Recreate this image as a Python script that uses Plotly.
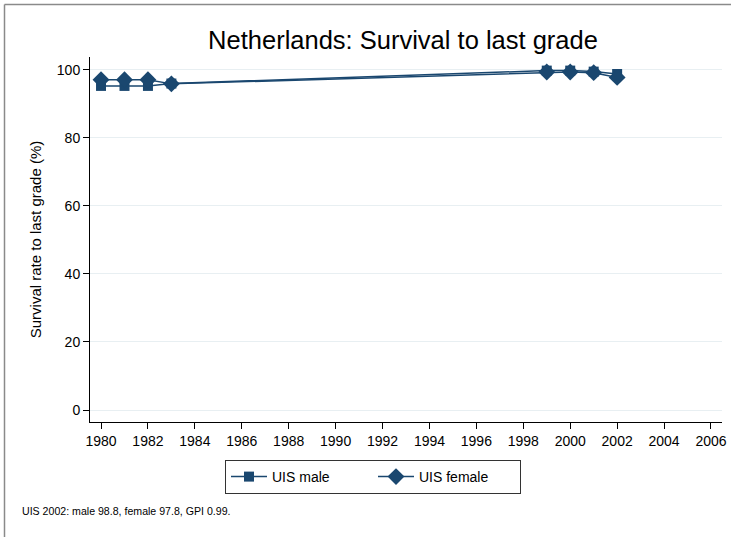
import plotly.graph_objects as go

years_male = [1980, 1981, 1982, 1983, 1999, 2000, 2001, 2002]
uis_male = [95.3, 95.3, 95.3, 96.0, 99.8, 99.8, 99.5, 98.8]
years_female = [1980, 1981, 1982, 1983, 1999, 2000, 2001, 2002]
uis_female = [97.1, 97.1, 97.1, 95.9, 99.4, 99.4, 99.2, 97.8]
x_ticks = list(range(1980, 2007, 2))
y_ticks = [0, 20, 40, 60, 80, 100]

NAVY = "#1a476f"
FONT = "Liberation Sans, Arial, sans-serif"

fig = go.Figure()
fig.add_trace(go.Scatter(x=years_male, y=uis_male, mode="lines+markers", name="UIS male",
                         line=dict(color=NAVY, width=1.5),
                         marker=dict(symbol="square", size=10, color=NAVY)))
fig.add_trace(go.Scatter(x=years_female, y=uis_female, mode="lines+markers", name="UIS female",
                         line=dict(color=NAVY, width=1.5),
                         marker=dict(symbol="diamond", size=13, color=NAVY)))

W, H = 731, 537
L, R, T, B = 90, 9, 57, 115
pw, ph = W - L - R, H - T - B

def px(x):
    return (x - L) / pw

def py(y):
    return (H - B - y) / ph

frame = dict(color="#8a8a8a", width=1.5)

fig.update_layout(
    width=W, height=H,
    margin=dict(l=L, r=R, t=T, b=B, autoexpand=False),
    paper_bgcolor="white", plot_bgcolor="white",
    font=dict(family=FONT, size=14, color="black"),
    title=dict(text="Netherlands: Survival to last grade", x=px(403), xref="paper", xanchor="center",
               y=1 - 40 / H, yref="container", yanchor="middle",
               font=dict(size=25.5, family=FONT)),
    showlegend=True,
    legend=dict(orientation="h", x=px(373), xanchor="center", y=py(460), yanchor="top",
                bordercolor="#333333", borderwidth=1, font=dict(size=14),
                itemwidth=36, entrywidth=96),
    xaxis=dict(range=[1979.53, 2006.47], tickvals=x_ticks, showgrid=False,
               showline=True, linecolor="black", linewidth=1,
               ticks="outside", ticklen=6, tickcolor="black", zeroline=False,
               tickfont=dict(size=14)),
    yaxis=dict(range=[-3.53, 103.8], tickvals=y_ticks, showgrid=True, gridcolor="#e8eff2",
               gridwidth=1, showline=True, linecolor="black", linewidth=1,
               ticks="outside", ticklen=6, tickcolor="black", zeroline=False,
               title=dict(text="Survival rate to last grade (%)", font=dict(size=15), standoff=11),
               tickfont=dict(size=14)),
    shapes=[
        dict(type="line", xref="paper", yref="paper",
             x0=px(4.5), x1=px(740), y0=py(4.5), y1=py(4.5), line=frame, layer="below"),
        dict(type="line", xref="paper", yref="paper",
             x0=px(4.5), x1=px(4.5), y0=py(4.5), y1=py(550), line=frame, layer="below"),
    ],
    annotations=[dict(text="UIS 2002: male 98.8, female 97.8, GPI 0.99.", xref="paper", yref="paper",
                      x=px(20), y=py(511), xanchor="left", yanchor="middle", showarrow=False,
                      font=dict(size=10.6, family=FONT))],
)

fig.write_html("out.html", config={"displayModeBar": False},
               post_script="document.body.style.margin='0';")
